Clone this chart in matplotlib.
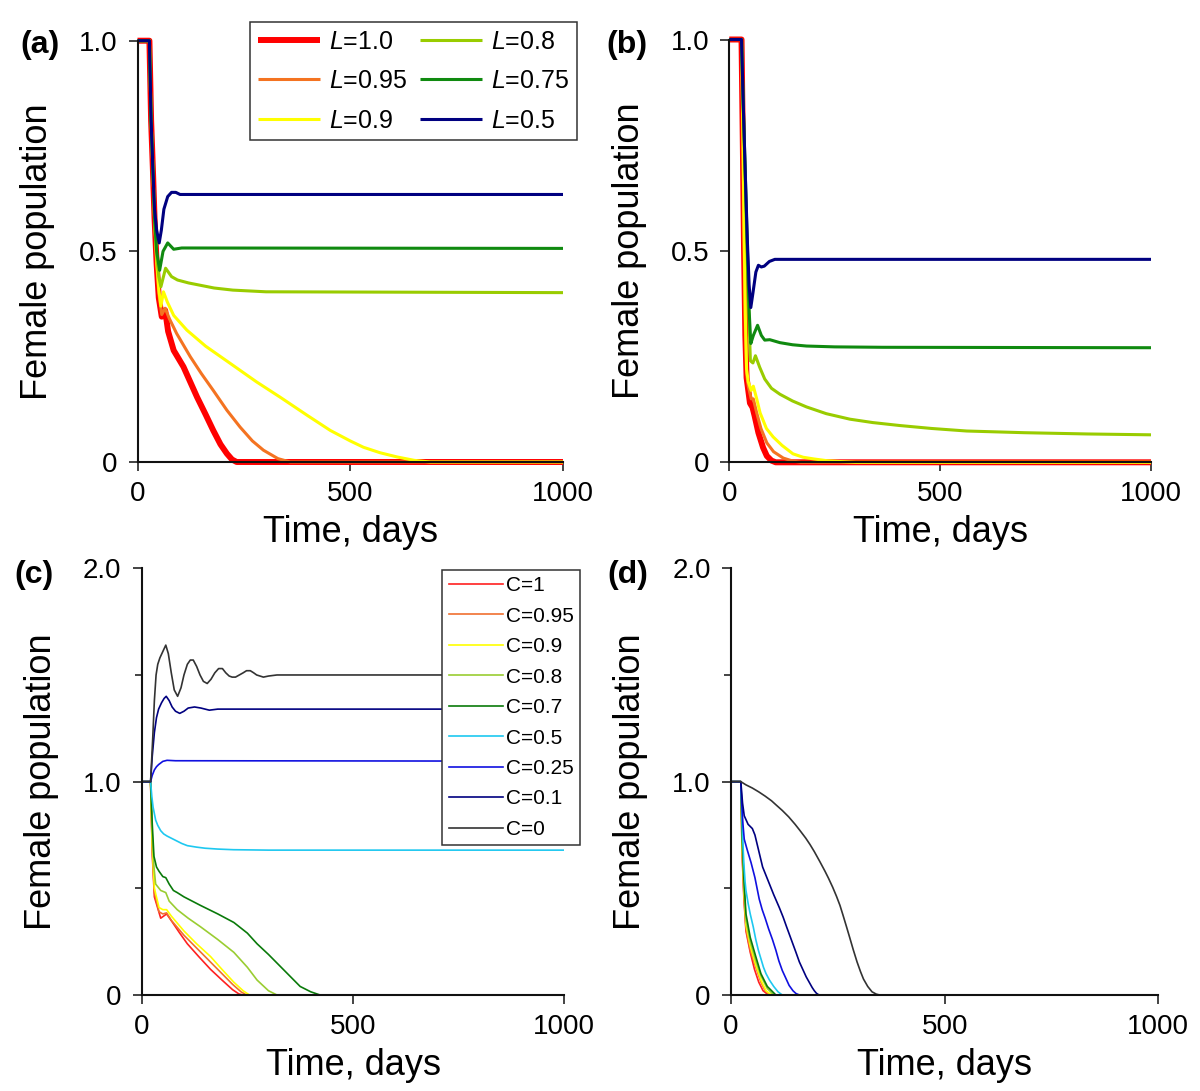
import matplotlib
matplotlib.use("Agg")
import matplotlib.pyplot as plt
from matplotlib.ticker import FixedLocator

plt.rcParams['font.family'] = ['Liberation Sans', 'DejaVu Sans']
plt.rcParams['mathtext.fontset'] = 'custom'
plt.rcParams['mathtext.rm'] = 'Liberation Sans'
plt.rcParams['mathtext.it'] = 'Liberation Sans:italic'

# ---------------- Panel (a) ----------------
a_labels = ["$L$=1.0", "$L$=0.95", "$L$=0.9", "$L$=0.8", "$L$=0.75", "$L$=0.5"]
a_colors = ["#ff0000", "#f47321", "#ffff00", "#99cc00", "#108a10", "#000080"]
a_widths = [4.3, 2.2, 2.2, 2.2, 2.2, 2.2]
a_t = [
    [0, 28, 32, 36, 40, 45, 50, 57, 65, 72, 85, 108, 140, 160, 178, 195, 210, 222, 233, 1000],
    [0, 28, 32, 36, 40, 45, 50, 57, 65, 75, 92, 124, 150, 178, 210, 241, 270, 296, 330, 359, 1000],
    [0, 28, 32, 36, 40, 45, 50, 55, 61, 70, 85, 116, 160, 218, 280, 335, 400, 453, 500, 531, 570, 610, 650, 688, 1000],
    [0, 28, 32, 36, 40, 45, 50, 55, 66, 80, 94, 120, 145, 180, 224, 302, 1000],
    [0, 28, 32, 36, 40, 45, 52, 60, 71, 85, 104, 1000],
    [0, 28, 32, 36, 40, 45, 51, 56, 62, 71, 80, 90, 100, 1000],
]
a_v = [
    [1, 1, 0.81, 0.70, 0.58, 0.47, 0.39, 0.345, 0.36, 0.31, 0.265, 0.226, 0.154, 0.113, 0.075, 0.042, 0.02, 0.006, 0, 0],
    [1, 1, 0.81, 0.70, 0.58, 0.47, 0.40, 0.35, 0.365, 0.34, 0.305, 0.25, 0.21, 0.17, 0.123, 0.083, 0.05, 0.028, 0.008, 0, 0],
    [1, 1, 0.81, 0.70, 0.58, 0.48, 0.41, 0.37, 0.404, 0.38, 0.348, 0.313, 0.275, 0.234, 0.19, 0.154, 0.11, 0.075, 0.05, 0.035, 0.022, 0.012, 0.004, 0, 0],
    [1, 1, 0.81, 0.70, 0.58, 0.49, 0.44, 0.416, 0.46, 0.44, 0.432, 0.425, 0.42, 0.413, 0.408, 0.404, 0.402],
    [1, 1, 0.81, 0.70, 0.58, 0.50, 0.455, 0.50, 0.52, 0.505, 0.508, 0.507],
    [1, 1, 0.81, 0.70, 0.60, 0.55, 0.52, 0.55, 0.60, 0.63, 0.64, 0.64, 0.635, 0.635],
]

# ---------------- Panel (b) ----------------
b_t = [
    [0, 29, 32, 35, 38, 41, 45, 49, 55, 60, 69, 80, 89, 100, 110, 1000],
    [0, 29, 32, 35, 38, 41, 45, 52, 57, 65, 75, 89, 105, 128, 150, 170, 1000],
    [0, 29, 32, 35, 38, 41, 45, 52, 57, 65, 73, 88, 104, 125, 151, 175, 200, 230, 260, 300, 1000],
    [0, 29, 33, 38, 43, 47, 50, 56, 62, 72, 84, 100, 120, 150, 183, 230, 286, 340, 404, 480, 563, 700, 850, 1000],
    [0, 29, 33, 38, 43, 47, 51, 57, 67, 76, 84, 96, 120, 150, 183, 250, 365, 1000],
    [0, 29, 33, 38, 43, 47, 51, 56, 63, 69, 76, 83, 95, 108, 1000],
]
b_v = [
    [1, 1, 0.76, 0.50, 0.30, 0.20, 0.17, 0.14, 0.13, 0.11, 0.07, 0.035, 0.015, 0.004, 0, 0],
    [1, 1, 0.78, 0.52, 0.32, 0.21, 0.18, 0.15, 0.15, 0.117, 0.08, 0.046, 0.025, 0.01, 0.003, 0, 0],
    [1, 1, 0.80, 0.55, 0.35, 0.22, 0.19, 0.17, 0.18, 0.15, 0.117, 0.08, 0.06, 0.04, 0.02, 0.012, 0.008, 0.004, 0.002, 0, 0],
    [1, 1, 0.84, 0.66, 0.47, 0.33, 0.24, 0.235, 0.252, 0.225, 0.197, 0.175, 0.161, 0.145, 0.131, 0.115, 0.102, 0.094, 0.087, 0.080, 0.074, 0.070, 0.067, 0.065],
    [1, 1, 0.85, 0.68, 0.50, 0.36, 0.281, 0.30, 0.324, 0.30, 0.289, 0.29, 0.283, 0.278, 0.275, 0.273, 0.272, 0.271],
    [1, 1, 0.85, 0.68, 0.52, 0.42, 0.366, 0.40, 0.45, 0.466, 0.462, 0.464, 0.475, 0.48, 0.48],
]

# ---------------- Panel (c) ----------------
c_labels = ["C=1", "C=0.95", "C=0.9", "C=0.8", "C=0.7", "C=0.5", "C=0.25", "C=0.1", "C=0"]
c_colors = ["#ff2020", "#f07030", "#ffff00", "#9acd32", "#0a7a0a", "#1ec8f0", "#1010e0", "#000080", "#333333"]
c_t = [
    [0, 21, 25, 30, 45, 52, 59, 73, 90, 108, 135, 163, 190, 215, 230, 240, 1000],
    [0, 21, 25, 30, 41, 50, 59, 70, 100, 130, 160, 190, 215, 235, 248, 1000],
    [0, 21, 25, 30, 41, 50, 59, 70, 100, 130, 163, 190, 218, 240, 255, 1000],
    [0, 21, 25, 29, 33, 45, 57, 65, 84, 110, 139, 180, 218, 250, 273, 300, 320, 1000],
    [0, 21, 25, 29, 35, 41, 50, 57, 65, 75, 84, 100, 139, 180, 218, 250, 273, 300, 335, 360, 375, 400, 422, 1000],
    [0, 21, 24, 27, 30, 33, 38, 45, 52, 60, 70, 80, 95, 108, 130, 150, 180, 217, 260, 300, 1000],
    [0, 21, 25, 30, 35, 40, 50, 60, 80, 1000],
    [0, 21, 25, 30, 35, 40, 47, 53, 58, 65, 72, 80, 90, 100, 110, 125, 140, 160, 180, 200, 1000],
    [0, 21, 26, 30, 34, 38, 43, 50, 57, 63, 70, 77, 85, 93, 100, 108, 115, 122, 130, 138, 146, 155, 164,
     173, 182, 191, 199, 207, 214, 222, 231, 240, 248, 257, 265, 272, 280, 288, 300, 320, 1000],
]
c_v = [
    [1, 1, 0.66, 0.46, 0.36, 0.37, 0.38, 0.34, 0.29, 0.24, 0.18, 0.12, 0.07, 0.025, 0.005, 0, 0],
    [1, 1, 0.68, 0.48, 0.39, 0.38, 0.385, 0.35, 0.28, 0.22, 0.16, 0.10, 0.05, 0.015, 0, 0],
    [1, 1, 0.70, 0.50, 0.41, 0.40, 0.40, 0.37, 0.30, 0.24, 0.18, 0.12, 0.06, 0.02, 0, 0],
    [1, 1, 0.75, 0.60, 0.52, 0.49, 0.48, 0.44, 0.40, 0.36, 0.32, 0.26, 0.20, 0.13, 0.07, 0.02, 0, 0],
    [1, 1, 0.80, 0.65, 0.60, 0.58, 0.555, 0.55, 0.52, 0.49, 0.48, 0.46, 0.42, 0.38, 0.34, 0.29, 0.24, 0.19, 0.12, 0.07, 0.04, 0.015, 0, 0],
    [1, 1, 0.93, 0.88, 0.85, 0.82, 0.795, 0.77, 0.755, 0.745, 0.735, 0.725, 0.71, 0.70, 0.693, 0.688, 0.684, 0.681, 0.68, 0.679, 0.679],
    [1, 1, 1.03, 1.055, 1.07, 1.08, 1.095, 1.10, 1.098, 1.096],
    [1, 1, 1.12, 1.23, 1.30, 1.34, 1.37, 1.39, 1.40, 1.38, 1.35, 1.33, 1.32, 1.33, 1.345, 1.35, 1.345, 1.335, 1.34, 1.34, 1.34],
    [1, 1, 1.20, 1.38, 1.50, 1.55, 1.58, 1.61, 1.64, 1.60, 1.51, 1.43, 1.40, 1.44, 1.50, 1.55, 1.57, 1.57,
     1.54, 1.50, 1.47, 1.46, 1.48, 1.51, 1.53, 1.53, 1.51, 1.495, 1.49, 1.49, 1.50, 1.51, 1.52, 1.52,
     1.51, 1.50, 1.495, 1.49, 1.495, 1.50, 1.50],
]

# ---------------- Panel (d) ----------------
d_t = [
    [0, 23, 26, 30, 35, 45, 55, 65, 75, 88, 1000],
    [0, 23, 26, 30, 35, 45, 58, 70, 80, 92, 1000],
    [0, 23, 26, 30, 35, 45, 58, 70, 82, 95, 1000],
    [0, 23, 26, 30, 35, 45, 58, 70, 85, 100, 1000],
    [0, 23, 26, 30, 35, 45, 58, 70, 85, 105, 1000],
    [0, 23, 25, 27, 30, 33, 35, 40, 45, 52, 58, 64, 70, 76, 82, 90, 100, 110, 120, 1000],
    [0, 23, 25, 28, 31, 38, 47, 56, 61, 66, 73, 80, 88, 97, 105, 112, 120, 128, 136, 145, 152, 160, 1000],
    [0, 23, 25, 27, 31, 40, 50, 56, 62, 68, 74, 82, 90, 100, 113, 122, 130, 141, 152, 160, 168, 176,
     183, 190, 195, 200, 206, 1000],
    [0, 23, 35, 50, 65, 80, 95, 106, 120, 135, 150, 161, 175, 185, 195, 208, 220, 228, 238, 247, 255,
     262, 270, 278, 286, 295, 303, 310, 320, 330, 340, 348, 1000],
]
d_v = [
    [1, 1, 0.66, 0.46, 0.30, 0.20, 0.12, 0.06, 0.02, 0, 0],
    [1, 1, 0.68, 0.48, 0.31, 0.21, 0.13, 0.06, 0.02, 0, 0],
    [1, 1, 0.70, 0.50, 0.33, 0.23, 0.14, 0.07, 0.02, 0, 0],
    [1, 1, 0.72, 0.52, 0.35, 0.25, 0.16, 0.09, 0.03, 0, 0],
    [1, 1, 0.75, 0.55, 0.38, 0.27, 0.18, 0.10, 0.04, 0, 0],
    [1, 1, 0.88, 0.75, 0.62, 0.53, 0.49, 0.43, 0.38, 0.32, 0.26, 0.21, 0.17, 0.13, 0.10, 0.07, 0.04, 0.015, 0, 0],
    [1, 1, 0.90, 0.80, 0.73, 0.68, 0.62, 0.55, 0.50, 0.45, 0.40, 0.36, 0.31, 0.26, 0.21, 0.16, 0.115,
     0.08, 0.045, 0.02, 0.007, 0, 0],
    [1, 1, 0.95, 0.90, 0.84, 0.80, 0.78, 0.75, 0.70, 0.65, 0.60, 0.56, 0.52, 0.47, 0.41, 0.365, 0.32,
     0.26, 0.20, 0.155, 0.12, 0.085, 0.06, 0.035, 0.02, 0.008, 0, 0],
    [1, 1, 0.985, 0.97, 0.952, 0.932, 0.91, 0.89, 0.865, 0.835, 0.80, 0.772, 0.735, 0.705, 0.672, 0.625, 0.58,
     0.548, 0.505, 0.462, 0.42, 0.375, 0.322, 0.268, 0.213, 0.155, 0.11, 0.075, 0.04, 0.015, 0.004, 0, 0],
]

x_ticks = [0, 500, 1000]
x_ticklabels = ["0", "500", "1000"]
ya_ticks = [0, 0.5, 1.0]
ya_ticklabels = ["0", "0.5", "1.0"]
yc_ticks = [0, 1.0, 2.0]
yc_ticklabels = ["0", "1.0", "2.0"]
yc_minor = [0.5, 1.5]
xlabel = "Time, days"
ylabel = "Female population"

W, H = 1200, 1091
fig = plt.figure(figsize=(W / 100, H / 100), dpi=100)


def px_axes(l, r, t, b):
    return fig.add_axes([l / W, 1 - b / H, (r - l) / W, (b - t) / H])


ax_a = px_axes(137.5, 563, 40.7, 462)
ax_b = px_axes(729.3, 1151, 39.5, 462.3)
ax_c = px_axes(141.7, 564.3, 568.3, 995)
ax_d = px_axes(731, 1158.3, 568.3, 995)


def style(ax, yt, ytl, ymax, minor=None):
    ax.set_xlim(0, 1000)
    ax.set_ylim(0, ymax)
    for s in ["top", "right"]:
        ax.spines[s].set_visible(False)
    for s in ["left", "bottom"]:
        ax.spines[s].set_linewidth(1.5)
        ax.spines[s].set_color("#111111")
    ax.set_xticks(x_ticks)
    ax.set_xticklabels(x_ticklabels)
    ax.set_yticks(yt)
    ax.set_yticklabels(ytl)
    if minor is not None:
        ax.yaxis.set_minor_locator(FixedLocator(minor))
        ax.tick_params(axis="y", which="minor", length=5, width=1.1, direction="out", color="#111111")
    ax.tick_params(axis="both", which="major", length=6.5, width=1.1, direction="out",
                   labelsize=20, color="#111111")
    ax.tick_params(axis="x", which="major", pad=7)
    ax.tick_params(axis="y", which="major", pad=8)
    for spine in ax.spines.values():
        spine.set_zorder(3)
    ax.set_xlabel(xlabel, fontsize=26)
    ax.set_ylabel(ylabel, fontsize=26)
    ax.yaxis.set_label_coords(-0.195, 0.5)
    h = ax.get_position().height * H
    ax.xaxis.set_label_coords(0.5, -53 / h)
    ax.set_facecolor("none")


for ts, vs, c, w, lab in zip(a_t, a_v, a_colors, a_widths, a_labels):
    ax_a.plot(ts, vs, color=c, lw=w, label=lab, solid_capstyle="butt", solid_joinstyle="round", clip_on=False)
for ts, vs, c, w in zip(b_t, b_v, a_colors, a_widths):
    ax_b.plot(ts, vs, color=c, lw=w, solid_capstyle="butt", solid_joinstyle="round", clip_on=False)
for ts, vs, c, lab in zip(c_t, c_v, c_colors, c_labels):
    ax_c.plot(ts, vs, color=c, lw=1.2, label=lab, solid_joinstyle="round")
for ts, vs, c in zip(d_t, d_v, c_colors):
    ax_d.plot(ts, vs, color=c, lw=1.2, solid_joinstyle="round")

style(ax_a, ya_ticks, ya_ticklabels, 1.0)
style(ax_b, ya_ticks, ya_ticklabels, 1.0)
style(ax_c, yc_ticks, yc_ticklabels, 2.0, yc_minor)
style(ax_d, yc_ticks, yc_ticklabels, 2.0, yc_minor)

leg_a = ax_a.legend(ncol=2, loc="upper right", bbox_to_anchor=(1.032, 1.044),
                    borderaxespad=0, fontsize=18, handlelength=2.5, handletextpad=0.35,
                    columnspacing=0.5, labelspacing=0.62, borderpad=0.3,
                    fancybox=False, framealpha=1, edgecolor="#333333")
leg_a.get_frame().set_linewidth(1.1)
leg_a.set_zorder(10)

leg_c = ax_c.legend(loc="upper right", bbox_to_anchor=(1.037, 0.996),
                    borderaxespad=0, fontsize=15, handlelength=2.6, handletextpad=0.15,
                    labelspacing=0.55, borderpad=0.3,
                    fancybox=False, framealpha=1, edgecolor="#333333")
leg_c.get_frame().set_linewidth(1.1)
leg_c.set_zorder(10)

for lab, x, yb in [("(a)", 20, 53), ("(b)", 606, 53), ("(c)", 14, 583), ("(d)", 607, 583)]:
    fig.text(x / W, 1 - yb / H, lab, fontsize=23, fontweight="bold", ha="left", va="baseline")

fig.savefig("out.png", dpi=100)
